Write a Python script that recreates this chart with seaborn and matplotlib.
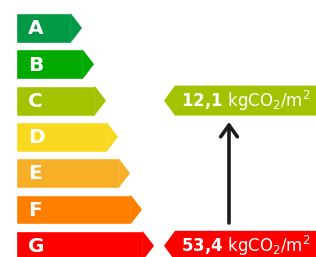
import seaborn as sns
import matplotlib.pyplot as plt
import pandas as pd

sns.set_theme(style="white")
plt.rcParams['font.family'] = ['DejaVu Sans']
plt.rcParams['mathtext.fontset'] = 'dejavusans'

# energy classes and bar lengths (px beyond left edge)
classes = ['A', 'B', 'C', 'D', 'E', 'F', 'G']
lengths = [55, 67, 79, 91, 103, 115, 127]
colors = ['#009a46', '#00aa00', '#a2c400', '#f9d91f', '#f8af28', '#ff7f00', '#ff0000']

# indicators: class and value
ind_classes = ['C', 'G']
ind_values = ['12{,}1', '53{,}4']
unit = r'\ \mathrm{kgCO_2/m^2}'

df = pd.DataFrame({'cls': classes, 'len': lengths})

fig = plt.figure(figsize=(3.16, 2.57), dpi=100)
ax = fig.add_axes([0, 0, 1, 1])

sns.barplot(data=df, x='len', y='cls', hue='cls', palette=colors,
            orient='h', width=0.826, legend=False, ax=ax, saturation=1)

step = 36.3
ax.set_xlim(-16, 300)
ax.set_ylim((257 - 28) / step, -28 / step)
ax.axis('off')

half = 0.826 / 2
tip = 11
for i, (c, l) in enumerate(zip(colors, lengths)):
    ax.fill([l - 0.5, l + tip, l - 0.5], [i - half, i, i + half], color=c, lw=0)
    ax.text(12, i + 0.02, classes[i], color='white', fontsize=14.5,
            fontweight='bold', ha='left', va='center')

# right-side indicators
for c, v in zip(ind_classes, ind_values):
    i = classes.index(c)
    x0 = 164 - 16
    ax.fill([x0, x0 + 11, 320, 320, x0 + 11], [i, i - half, i - half, i + half, i + half],
            color=colors[i], lw=0)
    ax.text(x0 + 17, i + 6.5 / step, r'$\mathbf{' + v + '}' + unit + '$',
            color='white', fontsize=12, ha='left', va='baseline')

# arrow from G up to C
x_arrow = 229 - 16
ax.annotate('', xy=(x_arrow, (122 - 28) / step), xytext=(x_arrow, (223 - 28) / step),
            arrowprops=dict(arrowstyle='->,head_length=0.7,head_width=0.5',
                            color='#1a1a1a', lw=2.6, shrinkA=0, shrinkB=0))

fig.savefig('out.png', dpi=100)
